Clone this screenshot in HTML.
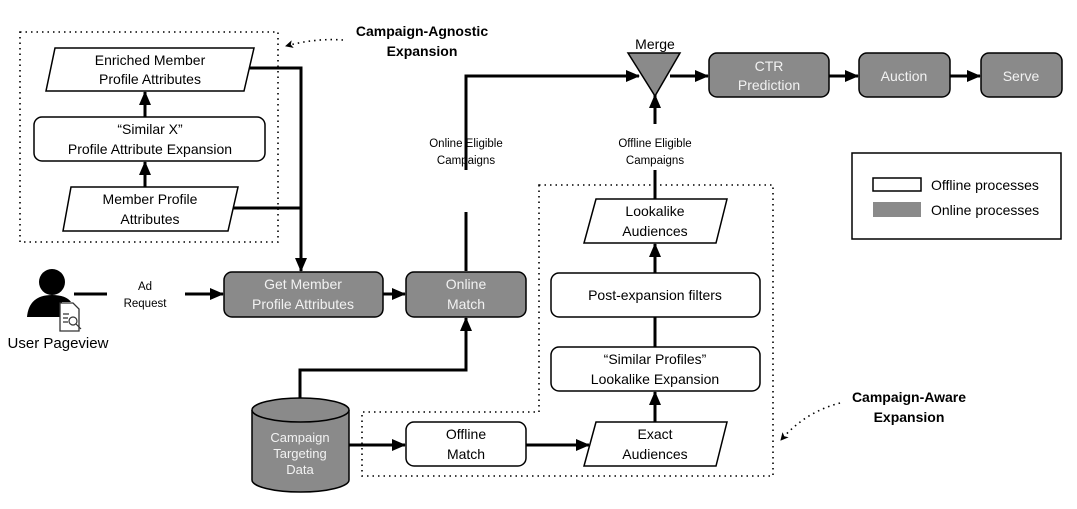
<!DOCTYPE html>
<html><head><meta charset="utf-8"><style>
html,body{margin:0;padding:0;background:#fff;}
svg{display:block;font-family:"Liberation Sans",sans-serif;}
</style></head><body>
<svg width="1077" height="509" viewBox="0 0 1077 509" xmlns="http://www.w3.org/2000/svg">
<defs>
<marker id="ah" markerWidth="14" markerHeight="12" refX="13" refY="6" orient="auto" markerUnits="userSpaceOnUse" viewBox="0 0 14 12">
<path d="M0,0 L14,6 L0,12 z" fill="#000"/></marker>
<marker id="ahs" markerWidth="8" markerHeight="8" refX="7" refY="4" orient="auto" markerUnits="userSpaceOnUse" viewBox="0 0 8 8">
<path d="M0,0 L8,4 L0,8 L2,4 z" fill="#000"/></marker>
</defs>
<g fill="none" stroke="#000" stroke-width="1.6" stroke-dasharray="1.5,4">
<rect x="20" y="32" width="258" height="210"/>
<path d="M539,185 H773 V476 H362 V412 H539 Z"/>
<path d="M343,40 Q315,38 286,46" marker-end="url(#ahs)"/>
<path d="M840,403 Q805,412 781,440" marker-end="url(#ahs)"/>
</g>
<g font-weight="bold" font-size="14" text-anchor="middle" fill="#000">
<text x="422" y="36">Campaign-Agnostic</text><text x="422" y="56">Expansion</text>
<text x="909" y="402">Campaign-Aware</text><text x="909" y="422">Expansion</text>
</g>
<g stroke="#000" stroke-width="3" fill="none">
<path d="M241,68 H301 V271" marker-end="url(#ah)"/>
<path d="M226,208 H301"/>
<path d="M145,117 V92" marker-end="url(#ah)"/>
<path d="M145,187 V162" marker-end="url(#ah)"/>
<path d="M74,294 H107"/>
<path d="M185,294 H223" marker-end="url(#ah)"/>
<path d="M383,294 H405" marker-end="url(#ah)"/>
<path d="M466,271 V212"/>
<path d="M466,170 V76 H639" marker-end="url(#ah)"/>
<path d="M300,398 V370 H466 V318" marker-end="url(#ah)"/>
<path d="M349,445 H405" marker-end="url(#ah)"/>
<path d="M526,445 H589" marker-end="url(#ah)"/>
<path d="M655,422 V392" marker-end="url(#ah)"/>
<path d="M655,347 V317"/>
<path d="M655,273 V244" marker-end="url(#ah)"/>
<path d="M655,199 V170"/>
<path d="M655,124 V95" marker-end="url(#ah)"/>
<path d="M670,76 H708" marker-end="url(#ah)"/>
<path d="M829,76 H858" marker-end="url(#ah)"/>
<path d="M950,76 H980" marker-end="url(#ah)"/>
</g>
<g stroke="#000" stroke-width="1.5">
<polygon points="55,48 254,48 244,91 46,91" fill="#fff"/>
<rect x="34" y="117" width="231" height="44" rx="8" fill="#fff"/>
<polygon points="71,187 238,187 228,231 63,231" fill="#fff"/>
<rect x="224" y="272" width="159" height="45" rx="8" fill="#8a8a8a"/>
<rect x="406" y="272" width="120" height="45" rx="8" fill="#8a8a8a"/>
<polygon points="628,53 680,53 655,96" fill="#8a8a8a"/>
<rect x="709" y="53" width="120" height="44" rx="8" fill="#8a8a8a"/>
<rect x="859" y="53" width="91" height="44" rx="8" fill="#8a8a8a"/>
<rect x="981" y="53" width="81" height="44" rx="8" fill="#8a8a8a"/>
<polygon points="596,199 727,199 716,243 584,243" fill="#fff"/>
<rect x="551" y="273" width="209" height="44" rx="8" fill="#fff"/>
<rect x="551" y="347" width="209" height="44" rx="8" fill="#fff"/>
<polygon points="596,422 727,422 716,466 584,466" fill="#fff"/>
<rect x="406" y="422" width="120" height="44" rx="8" fill="#fff"/>
<path d="M252,410 V480 A48.5,12 0 0 0 349,480 V410" fill="#8a8a8a"/>
<ellipse cx="300.5" cy="410" rx="48.5" ry="12" fill="#8a8a8a"/>
<rect x="852" y="153" width="209" height="86" fill="#fff"/>
<rect x="873" y="178" width="48" height="13" fill="#fff"/>
</g>
<rect x="873" y="202" width="48" height="15" fill="#8a8a8a"/>
<g fill="#000">
<circle cx="52" cy="282" r="13"/>
<path d="M27,317 Q29,295 52,295 Q66,295 71,302 L62,302 L62,317 Z"/>
</g>
<g fill="#fff" stroke="#333" stroke-width="1.3">
<path d="M60,303 H73 L79,309 V331 H60 Z"/>
</g>
<g stroke="#333" stroke-width="1.2" fill="none">
<path d="M63,314 H69 M63,318 H68 M63,322 H68"/>
<circle cx="73" cy="321" r="4"/><path d="M76,324 L81,329"/>
</g>
<g font-size="14" text-anchor="middle" fill="#000">
<text x="150" y="65">Enriched Member</text><text x="150" y="84">Profile Attributes</text>
<text x="150" y="134">“Similar X”</text><text x="150" y="154">Profile Attribute Expansion</text>
<text x="150" y="204">Member Profile</text><text x="150" y="224">Attributes</text>
<text x="58" y="348" font-size="15">User Pageview</text>
<text x="655" y="49">Merge</text>
<text x="655" y="216">Lookalike</text><text x="655" y="236">Audiences</text>
<text x="655" y="300">Post-expansion filters</text>
<text x="655" y="364">“Similar Profiles”</text><text x="655" y="384">Lookalike Expansion</text>
<text x="655" y="439">Exact</text><text x="655" y="459">Audiences</text>
<text x="466" y="439">Offline</text><text x="466" y="459">Match</text>
</g>
<g font-size="14" text-anchor="middle" fill="#f2f2f2">
<text x="303" y="289">Get Member</text><text x="303" y="309">Profile Attributes</text>
<text x="466" y="289">Online</text><text x="466" y="309">Match</text>
<text x="769" y="71">CTR</text><text x="769" y="90">Prediction</text>
<text x="904" y="81">Auction</text>
<text x="1021" y="81">Serve</text>
<text x="300" y="442" font-size="13">Campaign</text><text x="300" y="458" font-size="13">Targeting</text><text x="300" y="474" font-size="13">Data</text>
</g>
<g font-size="11.5" text-anchor="middle" fill="#000">
<text x="145" y="290">Ad</text><text x="145" y="307">Request</text>
<text x="466" y="147">Online Eligible</text><text x="466" y="164">Campaigns</text>
<text x="655" y="147">Offline Eligible</text><text x="655" y="164">Campaigns</text>
</g>
<g font-size="14" fill="#000">
<text x="931" y="190">Offline processes</text>
<text x="931" y="215">Online processes</text>
</g>
</svg>
</body></html>
